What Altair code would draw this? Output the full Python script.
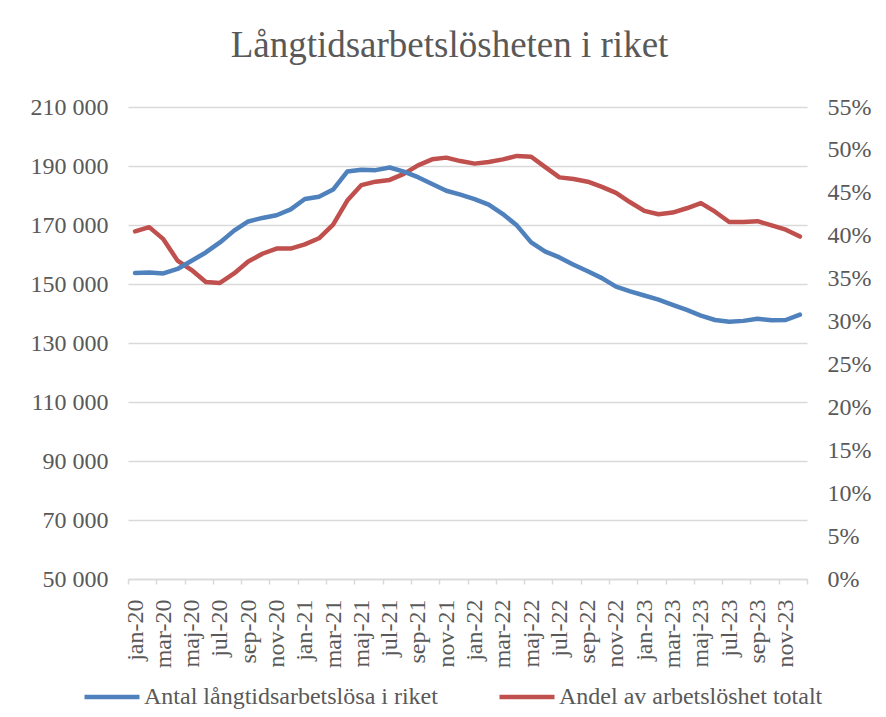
import altair as alt
import pandas as pd

# ---- data ----
months = [
    "jan-20", "feb-20", "mar-20", "apr-20", "maj-20", "jun-20", "jul-20", "aug-20", "sep-20", "okt-20", "nov-20", "dec-20",
    "jan-21", "feb-21", "mar-21", "apr-21", "maj-21", "jun-21", "jul-21", "aug-21", "sep-21", "okt-21", "nov-21", "dec-21",
    "jan-22", "feb-22", "mar-22", "apr-22", "maj-22", "jun-22", "jul-22", "aug-22", "sep-22", "okt-22", "nov-22", "dec-22",
    "jan-23", "feb-23", "mar-23", "apr-23", "maj-23", "jun-23", "jul-23", "aug-23", "sep-23", "okt-23", "nov-23", "dec-23",
]

antal = [
    153700, 153900, 153600, 155100, 157900, 160700, 164100, 168100, 171200, 172400, 173300, 175300,
    178800, 179600, 182000, 188100, 188700, 188600, 189500, 188100, 186200, 183900, 181600, 180300,
    178800, 176900, 173700, 169800, 164100, 161000, 159000, 156500, 154300, 152000, 149100, 147500,
    146100, 144700, 142900, 141200, 139300, 137800, 137200, 137500, 138200, 137700, 137800, 139600,
]

andel_pct = [
    40.5, 41.0, 39.6, 37.1, 36.0, 34.6, 34.5, 35.6, 37.0, 37.9, 38.5, 38.5,
    39.0, 39.7, 41.3, 44.1, 45.9, 46.3, 46.5, 47.2, 48.2, 48.9, 49.1, 48.7,
    48.4, 48.6, 48.9, 49.3, 49.2, 48.0, 46.8, 46.6, 46.3, 45.7, 45.0, 43.9,
    42.9, 42.5, 42.7, 43.2, 43.8, 42.8, 41.6, 41.6, 41.7, 41.2, 40.7, 39.9,
]

series_names = ["Antal långtidsarbetslösa i riket", "Andel av arbetslöshet totalt"]
series_colors = ["#4f81bd", "#c0504d"]

left_ticks = [50000, 70000, 90000, 110000, 130000, 150000, 170000, 190000, 210000]
right_ticks = [0, 0.05, 0.10, 0.15, 0.20, 0.25, 0.30, 0.35, 0.40, 0.45, 0.50, 0.55]

title_text = "Långtidsarbetslösheten i riket"

# ---- build ----
df = pd.DataFrame({
    "idx": list(range(len(months))),
    "month": months,
    "antal": antal,
    "andel": [v / 100 for v in andel_pct],
})

FONT = "Liberation Serif"
TXT = "#595959"
GRID = "#d9d9d9"

n = len(months)
x_tick_vals = [i - 0.5 for i in range(0, n + 1, 2)]
label_list = "[" + ",".join("'" + m + "'" for m in months[::2]) + "]"
x_label_expr = label_list + "[round((datum.value + 0.5) / 2)] || ''"

x_enc = alt.X(
    "idx:Q",
    scale=alt.Scale(domain=[-0.5, n - 0.5], nice=False, zero=False),
    axis=alt.Axis(
        values=x_tick_vals,
        labelExpr=x_label_expr,
        labelAngle=270,
        labelAlign="right",
        labelBaseline="middle",
        labelOffset=7,
        labelPadding=15,
        labelFont=FONT,
        labelFontSize=24,
        labelColor=TXT,
        labelOverlap=False,
        labelBound=False,
        labelFlush=False,
        tickSize=5,
        tickColor=GRID,
        tickWidth=1.5,
        domainColor=GRID,
        domainWidth=1.5,
        grid=False,
        title=None,
    ),
)

color_enc = alt.Color(
    "series:N",
    scale=alt.Scale(domain=series_names, range=series_colors),
    legend=alt.Legend(
        orient="none",
        legendX=-46,
        legendY=560,
        direction="horizontal",
        columns=2,
        columnPadding=52,
        symbolType="stroke",
        symbolSize=3025,
        symbolStrokeWidth=4.5,
        labelFont=FONT,
        labelFontSize=24,
        labelColor=TXT,
        labelOffset=2,
        labelLimit=0,
        padding=0,
        title=None,
    ),
)

blue = alt.Chart(df).transform_calculate(
    series="'" + series_names[0] + "'"
).mark_line(strokeWidth=4.5, strokeCap="round", strokeJoin="round").encode(
    x=x_enc,
    y=alt.Y(
        "antal:Q",
        scale=alt.Scale(domain=[left_ticks[0], left_ticks[-1]], nice=False, zero=False),
        axis=alt.Axis(
            values=left_ticks,
            labelExpr="replace(format(datum.value, ','), ',', ' ')",
            grid=True,
            gridColor=GRID,
            gridWidth=1.5,
            domain=False,
            ticks=False,
            labelPadding=20,
            labelFont=FONT,
            labelFontSize=24,
            labelColor=TXT,
            title=None,
        ),
    ),
    color=color_enc,
)

red = alt.Chart(df).transform_calculate(
    series="'" + series_names[1] + "'"
).mark_line(strokeWidth=4.5, strokeCap="round", strokeJoin="round").encode(
    x=x_enc,
    y=alt.Y(
        "andel:Q",
        scale=alt.Scale(domain=[right_ticks[0], right_ticks[-1]], nice=False, zero=True),
        axis=alt.Axis(
            orient="right",
            values=right_ticks,
            format=".0%",
            grid=False,
            domain=False,
            ticks=False,
            labelPadding=20,
            labelFont=FONT,
            labelFontSize=24,
            labelColor=TXT,
            title=None,
        ),
    ),
    color=color_enc,
)

chart = alt.layer(red, blue).resolve_scale(y="independent").properties(
    width=679,
    height=472,
    autosize=alt.AutoSizeParams(type="none"),
    padding={"left": 120, "top": 99, "right": 71, "bottom": 130},
    background="white",
    title=alt.TitleParams(
        title_text,
        font=FONT,
        fontSize=37,
        fontWeight="normal",
        color=TXT,
        anchor="middle",
        frame="group",
        baseline="alphabetic",
        dx=-18,
        dy=42,
        offset=43,
    ),
).configure_view(stroke=None)

chart.save("out.html", embed_options={"renderer": "svg", "actions": False})
